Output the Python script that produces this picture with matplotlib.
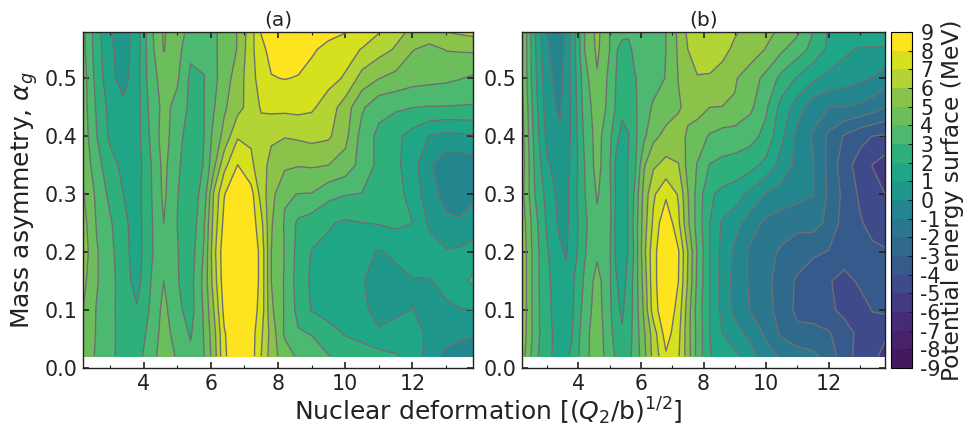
import numpy as np
import matplotlib
matplotlib.use("Agg")
import matplotlib.pyplot as plt
from matplotlib.colors import ListedColormap, BoundaryNorm

plt.rcParams["axes.unicode_minus"] = False

deformation_a = [2.2,2.6,3.0,3.4,3.8,4.2,4.6,5.0,5.4,5.8,6.1,6.4,6.8,7.2,7.5,7.8,8.2,8.6,9.0,9.5,10.0,10.5,11.0,11.5,12.0,12.5,13.0,13.4,13.8]
deformation_b = [2.2,2.6,3.0,3.4,3.6,3.8,4.2,4.6,5.0,5.2,5.4,5.6,5.8,6.1,6.4,6.8,7.2,7.5,7.8,8.2,8.6,9.0,9.5,10.0,10.5,11.0,11.5,12.0,12.5,13.0,13.4,13.8]
asymmetry = [0.02,0.06,0.10,0.15,0.20,0.25,0.30,0.35,0.40,0.45,0.50,0.55,0.58]

pes_a = [
 [4.5,3.9,3.2,2.7,2.6,3.55,4.5,3.9,3.2,4.0,5.5,7.8,8.9,8.5,7.0,5.5,4.45,3.85,3.5,3.05,2.8,2.6,2.4,2.1,1.6,.6,-.3,-.7,-1.0],
 [4.65,3.95,3.25,2.65,2.4,3.3,4.4,3.6,2.9,4.05,5.7,7.9,8.9,8.5,7.2,5.6,3.85,3.1,2.95,2.4,1.9,1.6,1.1,1.3,1.2,.9,.5,.35,.2],
 [5.0,3.95,3.3,2.55,2.1,3.1,4.3,3.25,2.6,4.15,6.05,8.3,8.9,8.6,7.6,5.2,3.9,2.7,1.95,1.6,1.5,1.15,.75,.85,1.02,.8,.85,.95,1.0],
 [5.3,4.1,3.35,2.5,1.6,2.95,4.0,3.05,2.65,4.3,6.5,8.6,8.9,8.8,7.7,5.0,3.9,2.55,1.85,1.6,1.45,1.05,.7,.6,.9,.95,1.25,1.7,2.2],
 [5.6,4.1,3.3,2.35,1.55,2.75,4.0,3.05,2.5,4.1,6.7,8.7,8.9,8.8,7.7,5.0,3.95,2.65,1.95,1.75,1.65,1.35,.9,1.25,1.75,1.4,1.1,1.2,1.5],
 [5.4,3.95,3.15,2.25,1.55,2.8,4.0,3.0,2.3,3.9,6.4,8.3,8.9,8.6,7.3,5.1,3.9,2.8,2.5,2.1,1.85,1.98,2.05,2.2,2.0,.85,.2,.1,.3],
 [5.1,3.8,2.75,2.0,1.6,2.85,4.2,3.05,2.4,3.4,6.2,7.95,8.9,8.4,6.6,5.35,4.1,3.98,3.95,3.3,3.05,2.97,2.9,2.4,1.6,.4,-.3,-.4,-.15],
 [4.8,3.4,2.4,1.75,1.5,2.9,4.3,3.15,2.5,3.05,4.8,6.7,8.02,7.2,6.4,5.7,5.2,5.05,5.1,5.0,4.6,3.6,2.75,2.25,1.4,.15,-.6,-.7,-.5],
 [4.6,3.05,1.8,1.4,1.6,3.1,4.5,3.3,2.6,3.0,4.35,5.3,6.9,6.85,6.6,6.15,6.05,6.15,6.3,6.15,5.3,3.6,2.75,2.25,1.6,.95,.7,.8,.9],
 [4.5,2.9,1.7,1.25,1.55,3.25,4.3,3.7,2.75,3.0,3.95,4.85,5.65,6.45,7.1,7.25,7.25,7.3,7.15,6.55,5.5,4.15,3.3,3.15,3.02,2.95,2.95,2.92,2.9],
 [4.5,2.65,1.3,.6,1.6,3.5,4.45,4.15,2.8,2.97,3.75,4.5,5.5,6.6,7.5,7.95,8.03,7.95,7.75,7.3,6.9,5.6,5.02,4.7,4.4,4.3,4.2,4.05,3.85],
 [4.3,2.5,1.2,.55,1.5,3.6,5.05,4.4,3.2,3.2,3.85,4.35,5.05,6.7,7.75,8.3,8.6,8.4,8.1,7.8,7.35,6.95,6.4,5.9,5.05,4.7,5.05,5.1,5.15],
 [4.3,2.45,1.05,.5,1.5,3.7,5.1,4.4,3.7,3.6,3.85,4.35,5.05,6.6,8.05,8.4,8.7,8.8,8.5,8.2,8.05,7.6,7.05,6.3,5.8,5.65,6.0,6.15,6.3],
]

pes_b = [
 [5.5,3.4,2.1,1.85,1.85,2.15,3.7,4.5,3.55,2.85,2.6,2.8,3.25,4.7,6.35,7.85,7.1,5.5,3.65,2.05,1.6,1.25,.45,-.6,-1.15,-1.45,-1.8,-2.35,-3.6,-4.35,-4.75,-5.3],
 [5.7,3.6,2.15,1.8,1.75,1.95,3.65,4.55,3.4,2.5,2.1,2.6,3.3,4.85,6.5,8.5,7.3,5.4,3.7,2.0,1.0,.4,-.3,-1.2,-2.2,-2.75,-2.6,-2.9,-3.6,-4.25,-4.6,-4.85],
 [5.8,3.55,2.15,1.7,1.5,1.85,3.4,4.5,3.2,2.3,1.85,2.5,3.3,5.2,7.5,8.9,7.6,5.5,3.6,2.0,.7,-.25,-1.05,-1.7,-2.35,-3.25,-3.55,-3.8,-4.25,-4.5,-3.95,-3.8],
 [5.8,3.5,2.15,1.6,1.3,1.8,3.15,4.4,3.15,2.1,1.6,2.3,3.35,5.4,7.7,8.9,8.0,5.9,3.8,2.0,.6,-.3,-1.15,-1.75,-2.45,-3.15,-3.55,-3.9,-4.4,-3.8,-3.45,-3.3],
 [5.8,3.5,2.1,1.2,.9,1.35,2.9,3.8,3.15,1.85,1.5,2.05,3.2,5.7,7.7,8.9,8.1,6.0,3.9,2.0,.7,-.2,-1.2,-1.7,-2.15,-2.5,-2.85,-3.05,-3.4,-3.6,-3.8,-3.85],
 [5.6,3.4,1.85,.8,.8,1.3,2.8,3.8,3.25,1.8,1.55,2.05,3.35,5.5,7.2,8.9,7.2,5.2,3.6,2.0,.85,.4,-.5,-1.25,-1.55,-1.75,-1.6,-2.25,-3.45,-3.9,-4.3,-4.8],
 [5.3,3.05,1.65,.7,.75,1.35,2.95,4.1,3.25,1.9,1.7,2.05,3.15,5.35,6.85,7.8,6.9,5.05,3.65,2.15,1.75,1.5,.75,-.05,-.4,-.65,-.95,-2.15,-3.3,-4.15,-4.6,-5.0],
 [5.5,2.9,1.15,.55,.7,1.2,3.0,4.4,3.1,1.85,1.7,2.05,2.75,4.9,5.85,6.3,6.05,4.65,3.95,2.95,2.75,2.65,2.35,1.7,.6,-.3,-.95,-2.25,-3.6,-4.4,-5.03,-5.5],
 [5.4,2.7,.7,.2,.5,1.2,3.2,4.4,3.25,2.25,1.75,1.95,2.75,3.8,4.75,5.3,5.4,4.85,4.45,3.9,3.6,3.5,3.35,2.7,1.2,-.3,-1.1,-2.2,-3.1,-3.7,-4.02,-4.1],
 [5.3,2.5,.5,-.2,.5,1.2,3.4,4.55,3.75,2.9,2.2,2.3,2.85,3.5,4.15,4.5,4.9,5.25,5.4,5.0,4.98,4.9,4.2,3.15,1.6,.5,-.6,-1.0,-1.02,-1.2,-1.5,-2.0],
 [5.05,2.3,.3,-.4,.4,1.25,3.6,4.9,3.75,3.0,2.65,2.8,2.95,3.25,3.55,4.05,5.03,5.5,5.95,5.9,5.6,5.1,4.5,3.7,2.7,1.9,1.2,.75,.5,.2,-.05,-.45],
 [5.1,2.2,.1,-.5,.25,1.35,4.0,5.2,4.0,3.1,2.7,2.85,3.15,3.4,3.6,4.0,5.15,6.0,6.35,6.5,6.3,5.8,5.5,4.95,4.15,3.5,2.7,1.8,1.2,.9,.85,.85],
 [5.1,2.1,0.0,-.5,.2,1.4,4.0,5.3,4.0,3.2,3.25,3.1,3.3,3.5,3.7,4.0,5.2,6.2,6.4,6.6,6.5,6.1,5.7,5.25,4.8,4.15,3.0,1.9,1.6,1.7,1.9,2.05],
]

energy_levels = list(range(-9, 10))
band_colors = ["#431a5e", "#48216b", "#472a76", "#443a83", "#3e4a89", "#375a8c", "#2f6a8d", "#2a778e", "#23868e",
               "#1f978b", "#1fa687", "#2fb07b", "#4db86f", "#6cbe5c", "#8bc34a", "#b2d434", "#d5e01f", "#fde41f"]
panel_titles = ["(a)", "(b)"]
x_ticks = [4, 6, 8, 10, 12]
x_minor = [3, 5, 7, 9, 11, 13]
y_ticks = [0.0, 0.1, 0.2, 0.3, 0.4, 0.5]

W, H = 969, 426
fig = plt.figure(figsize=(W / 100, H / 100), dpi=100)

def box(x0, y0, x1, y1):
    return [x0 / W, 1 - y1 / H, (x1 - x0) / W, (y1 - y0) / H]

ax_a = fig.add_axes(box(83, 32, 473, 368))
ax_b = fig.add_axes(box(522, 32, 885, 368))
cax = fig.add_axes(box(891, 32, 912, 368))

cmap = ListedColormap(band_colors)
norm = BoundaryNorm(energy_levels, cmap.N)

FS = 14.8
INK = "#222222"
for ax, xs, z, title in zip((ax_a, ax_b), (deformation_a, deformation_b), (pes_a, pes_b), panel_titles):
    cf = ax.contourf(xs, asymmetry, np.array(z), levels=energy_levels, cmap=cmap, norm=norm)
    ax.contour(xs, asymmetry, np.array(z), levels=energy_levels,
               colors="#6e6e72", linewidths=1.0, linestyles="solid")
    ax.set_xlim(2.2, 13.8)
    ax.set_ylim(0, 0.58)
    ax.set_xticks(x_ticks)
    ax.set_xticks(x_minor, minor=True)
    ax.set_yticks(y_ticks)
    ax.tick_params(which="major", direction="in", top=True, right=True, length=4, width=1.2,
                   labelsize=FS, pad=4, colors=INK)
    ax.tick_params(which="minor", direction="in", top=True, right=False, length=2.5, width=0.8, colors=INK)
    ax.set_title(title, fontsize=14.5, pad=5, color=INK)
    for s in ax.spines.values():
        s.set_linewidth(1.0)
        s.set_color(INK)

ax_a.set_ylabel(r"Mass asymmetry, $\alpha_g$", fontsize=18, labelpad=3, color=INK)
fig.text(488 / W, 1 - 411 / H, r"Nuclear deformation [$(Q_2/\mathrm{b})^{1/2}$]", fontsize=18,
         ha="center", va="center", color=INK)

cb = fig.colorbar(cf, cax=cax, ticks=energy_levels)
cb.ax.tick_params(direction="in", length=3, width=0.8, labelsize=FS, pad=6, colors=INK)
cb.outline.set_linewidth(0.8)
fig.text(953 / W, 1 - 200 / H, "Potential energy surface (MeV)", fontsize=16.8, rotation=90,
         ha="center", va="center", color=INK)

fig.savefig("out.png", dpi=100)
